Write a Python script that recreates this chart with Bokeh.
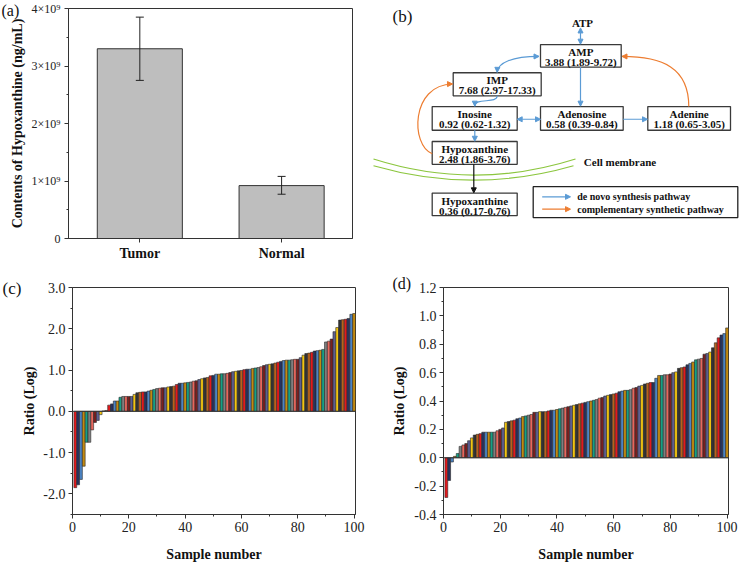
from bokeh.plotting import figure
from bokeh.models import (Range1d, FixedTicker, Whisker, TeeHead, ColumnDataSource, Label,
                          Span, Arrow, NormalHead, NumeralTickFormatter)
from bokeh.layouts import row, column
from bokeh.embed import file_html
from bokeh.resources import INLINE
from bokeh.core.properties import value

# ---------------- data ----------------
groups = ["Tumor", "Normal"]
hx_mean = [3.30e9, 0.92e9]
hx_low = [2.75e9, 0.77e9]
hx_high = [3.85e9, 1.08e9]
a_yticks = [0, 1000000000, 2000000000, 3000000000, 4000000000]
a_ylabels = ["0", "1×10⁹", "2×10⁹", "3×10⁹", "4×10⁹"]

ratio_c = [-1.85, -1.78, -1.65, -1.33, -0.75, -0.75, -0.45, -0.27, -0.22, -0.08,
           0.01, 0.02, 0.15, 0.18, 0.25, 0.25, 0.34, 0.36, 0.36, 0.36,
           0.36, 0.41, 0.45, 0.46, 0.47, 0.47, 0.49, 0.51, 0.53, 0.55,
           0.56, 0.57, 0.57, 0.59, 0.60, 0.61, 0.65, 0.68, 0.68, 0.69,
           0.70, 0.71, 0.73, 0.74, 0.77, 0.79, 0.81, 0.82, 0.86, 0.87,
           0.90, 0.90, 0.91, 0.91, 0.92, 0.94, 0.96, 0.97, 0.98, 0.99,
           1.01, 1.02, 1.02, 1.04, 1.05, 1.06, 1.08, 1.11, 1.13, 1.14,
           1.15, 1.17, 1.19, 1.21, 1.23, 1.24, 1.24, 1.25, 1.26, 1.26,
           1.30, 1.36, 1.40, 1.41, 1.43, 1.46, 1.47, 1.48, 1.50, 1.68,
           1.70, 1.75, 1.93, 2.03, 2.21, 2.22, 2.23, 2.25, 2.35, 2.37]

ratio_d = [-0.28, -0.16, -0.03, 0.01, 0.03, 0.08, 0.09, 0.10, 0.12, 0.14,
           0.16, 0.165, 0.17, 0.18, 0.18, 0.18, 0.18, 0.18, 0.19, 0.20,
           0.21, 0.25, 0.255, 0.26, 0.265, 0.275, 0.28, 0.29, 0.295, 0.30,
           0.305, 0.32, 0.32, 0.325, 0.325, 0.325, 0.33, 0.335, 0.335, 0.34,
           0.345, 0.35, 0.355, 0.36, 0.365, 0.37, 0.375, 0.38, 0.385, 0.39,
           0.395, 0.40, 0.405, 0.41, 0.42, 0.425, 0.435, 0.44, 0.445, 0.45,
           0.455, 0.465, 0.47, 0.475, 0.475, 0.48, 0.49, 0.495, 0.505, 0.51,
           0.52, 0.525, 0.53, 0.53, 0.56, 0.58, 0.58, 0.585, 0.585, 0.59,
           0.60, 0.605, 0.63, 0.635, 0.64, 0.655, 0.665, 0.675, 0.69, 0.695,
           0.70, 0.73, 0.735, 0.745, 0.775, 0.81, 0.845, 0.865, 0.875, 0.915]

samples = list(range(1, 101))

# pathway diagram content
node_names = ["AMP", "IMP", "Inosine", "Adenosine", "Adenine", "Hypoxanthine", "Hypoxanthine"]
node_values = ["3.88 (1.89-9.72)", "7.68 (2.97-17.33)", "0.92 (0.62-1.32)", "0.58 (0.39-0.84)",
               "1.18 (0.65-3.05)", "2.48 (1.86-3.76)", "0.36 (0.17-0.76)"]
legend_items = ["de novo synthesis pathway", "complementary synthetic pathway"]

# ---------------- styles / layout ----------------
FONT = "Liberation Serif"
BLUE = "#5B9BD5"
ORANGE = "#ED7D31"
GREEN = "#8CC63F"
EDGE = "#333333"
bar_colors = ["#E3191C", "#27325F", "#4C84C4", "#C28A10", "#16A085", "#7F7F7F",
              "#E8675D", "#7B1F1F", "#5D5E92", "#F2C511", "#333333", "#B8621B"]

# node box layout (left, right, top, bottom) in diagram pixels
node_boxes = [(170, 250.7, 42.7, 69.3), (82.7, 170.7, 76, 103.3), (61.7, 146.7, 116, 144),
              (170, 252.7, 116, 144), (277.3, 360, 116, 144), (61.7, 146.7, 157.3, 184.3),
              (61.7, 146.7, 218.3, 245)]


def style_axes(p, tick_font="14px"):
    for ax in p.axis:
        ax.axis_line_color = EDGE
        ax.major_tick_line_color = EDGE
        ax.minor_tick_line_color = EDGE
        ax.major_tick_out = 4
        ax.major_tick_in = 0
        ax.minor_tick_out = 2
        ax.minor_tick_in = 0
        ax.major_label_text_font = FONT
        ax.major_label_text_font_size = tick_font
        ax.major_label_text_color = "#222222"
        ax.major_label_standoff = 3
        ax.axis_label_text_font = FONT
        ax.axis_label_text_font_style = "bold"
        ax.axis_label_text_font_size = "14px"
        ax.axis_label_text_color = "#111111"
    p.xgrid.visible = False
    p.ygrid.visible = False
    p.outline_line_color = EDGE
    p.outline_line_width = 1


def panel_label(p, txt, x, y, side="left", size="17px"):
    # label placed in a side panel (x from that panel's left edge, y up from frame bottom)
    p.add_layout(Label(x=x, y=y, x_units="screen", y_units="screen", text=txt, text_font=FONT,
                       text_font_size=size, text_baseline="middle", text_align="left",
                       text_color="#111111"), side)


# ---------------- panel (a) ----------------
pa = figure(width=370, height=272, x_range=Range1d(0.497, 2.5), y_range=Range1d(0, 4e9),
            output_backend="svg", toolbar_location=None,
            min_border_left=68, min_border_right=17, min_border_top=8, min_border_bottom=34)
xa = [1, 2]
pa.vbar(x=xa, top=hx_mean, width=0.6, bottom=0, fill_color="#BEBEBE", line_color=EDGE, line_width=1)
wsrc = ColumnDataSource(dict(x=xa, lower=hx_low, upper=hx_high))
pa.add_layout(Whisker(source=wsrc, base="x", lower="lower", upper="upper", line_color="#222222",
                      line_width=1, level="overlay",
                      upper_head=TeeHead(size=8, line_color="#222222", line_width=1),
                      lower_head=TeeHead(size=8, line_color="#222222", line_width=1)))
style_axes(pa, "12px")
pa.xaxis.ticker = FixedTicker(ticks=xa, minor_ticks=[])
pa.xaxis.major_label_overrides = {1: groups[0], 2: groups[1]}
pa.xaxis.major_label_text_font_style = "bold"
pa.xaxis.major_label_text_font_size = "14px"
pa.xaxis.major_label_text_color = "#111111"
pa.yaxis.ticker = FixedTicker(ticks=a_yticks,
                              minor_ticks=[500000000, 1500000000, 2500000000, 3500000000])
pa.yaxis.major_label_overrides = dict(zip(a_yticks, a_ylabels))
pa.yaxis.major_label_standoff = 4
pa.yaxis.axis_label = "Contents of Hypoxanthine (ng/mL)"
pa.yaxis.axis_label_standoff = 4
panel_label(pa, "(a)", -351, 228, side="right", size="16px")

# ---------------- panel (b) ----------------
pb = figure(width=371, height=272, x_range=Range1d(0, 371), y_range=Range1d(272, 0),
            output_backend="svg", toolbar_location=None, x_axis_location=None, y_axis_location=None,
            min_border_left=0, min_border_right=0, min_border_top=0, min_border_bottom=0)
pb.xgrid.visible = False
pb.ygrid.visible = False
pb.outline_line_color = None

# cell membrane
pb.quadratic(x0=[3, 3], y0=[178, 186], x1=[205, 203], y1=[178, 186], cx=[104, 103], cy=[216, 220],
             line_color=GREEN, line_width=1.2)

lefts = [b[0] for b in node_boxes]
rights = [b[1] for b in node_boxes]
tops = [b[2] for b in node_boxes]
bottoms = [b[3] for b in node_boxes]
pb.quad(left=lefts, right=rights, top=tops, bottom=bottoms, fill_color="white",
        line_color="#3A3A3A", line_width=1.3)
cx_nodes = [(l + r) / 2 for l, r in zip(lefts, rights)]
pb.text(x=cx_nodes, y=[t + 8.8 for t in tops], text=node_names, text_font=value(FONT),
        text_font_style="bold", text_font_size="11px", text_align="center", text_baseline="middle",
        text_color="#111111")
pb.text(x=cx_nodes, y=[t + 20.6 for t in tops], text=node_values, text_font=value(FONT),
        text_font_style="bold", text_font_size="11px", text_align="center", text_baseline="middle",
        text_color="#111111")
pb.text(x=[212, 213.3], y=[17.5, 181], text=["ATP", "Cell membrane"], text_font=value(FONT),
        text_font_style="bold", text_font_size="11px", text_align=["center", "left"],
        text_baseline="middle", text_color="#111111")


def head(c):
    return NormalHead(size=5, fill_color=c, line_color=c, line_width=1)


def arrow(x0, y0, x1, y1, c, both=False, lw=1.2):
    pb.add_layout(Arrow(x_start=x0, y_start=y0, x_end=x1, y_end=y1, line_color=c, line_width=lw,
                        end=head(c), start=head(c) if both else None))


# straight arrows
arrow(210, 23, 210, 42.2, BLUE, both=True)
arrow(210, 69.3, 210, 115.5, BLUE)
arrow(146.7, 131, 170, 131, BLUE, both=True)
arrow(252.7, 131, 277, 131, BLUE)
arrow(104.3, 144, 104.3, 157, BLUE)
arrow(103.3, 184.3, 103.3, 218, "#111111")

# curved arrows
curves = [
    # p0, c0, c1, p1, color, both
    ((168.5, 56.7), (142, 56.7), (127, 64), (126.7, 75.5), BLUE, True),
    ((126.7, 103.3), (126.7, 113), (104.3, 105), (104.3, 115.5), BLUE, False),
    ((61.7, 171.7), (40, 162), (40, 90), (82, 89.3), ORANGE, False),
    ((318.3, 116), (318.3, 70), (292, 56.7), (251.5, 56.7), ORANGE, False),
]
for p0, c0, c1, p1, col, both in curves:
    pb.bezier(x0=[p0[0]], y0=[p0[1]], x1=[p1[0]], y1=[p1[1]], cx0=[c0[0]], cy0=[c0[1]],
              cx1=[c1[0]], cy1=[c1[1]], line_color=col, line_width=1.2)
    dx, dy = p1[0] - c1[0], p1[1] - c1[1]
    n = (dx * dx + dy * dy) ** 0.5
    arrow(p1[0] - dx / n * 2, p1[1] - dy / n * 2, p1[0], p1[1], col)
    if both:
        dx, dy = p0[0] - c0[0], p0[1] - c0[1]
        n = (dx * dx + dy * dy) ** 0.5
        arrow(p0[0] - dx / n * 2, p0[1] - dy / n * 2, p0[0], p0[1], col)

# legend
pb.quad(left=[162.7], right=[367.3], top=[210.7], bottom=[247.3], fill_color="white",
        line_color="#222222", line_width=1.3)
arrow(171.7, 222.7, 200, 222.7, BLUE)
arrow(171.7, 237.3, 200, 237.3, ORANGE)
pb.text(x=[206.7, 206.7], y=[222.7, 237.3], text=legend_items, text_font=value(FONT),
        text_font_style="bold", text_font_size="10px", text_align="left", text_baseline="middle",
        text_color="#111111")
pb.text(x=[22], y=[10], text=["(b)"], text_font=value(FONT), text_font_size="17px",
        text_align="left", text_baseline="middle", text_color="#111111")


# ---------------- panels (c), (d) ----------------
def ratio_panel(vals, w, yr, yticks, yminor, left, right, top, bottom, ylab_standoff,
                xlab_standoff):
    p = figure(width=w, height=292, x_range=Range1d(0, 100.5), y_range=Range1d(*yr),
               output_backend="svg", toolbar_location=None,
               min_border_left=left, min_border_right=right, min_border_top=top,
               min_border_bottom=bottom)
    cols = [bar_colors[i % len(bar_colors)] for i in range(len(vals))]
    p.vbar(x=samples, top=vals, bottom=0, width=1.0, fill_color=cols, line_color="#2A2A2A",
           line_width=0.6)
    p.add_layout(Span(location=0, dimension="width", line_color="#333333", line_width=1))
    style_axes(p, "14px")
    p.xaxis.ticker = FixedTicker(ticks=[0, 20, 40, 60, 80, 100], minor_ticks=[10, 30, 50, 70, 90])
    p.yaxis.ticker = FixedTicker(ticks=yticks, minor_ticks=yminor)
    p.yaxis.formatter = NumeralTickFormatter(format="0.0")
    p.yaxis.axis_label = "Ratio (Log)"
    p.yaxis.axis_label_standoff = ylab_standoff
    p.xaxis.axis_label = "Sample number"
    p.xaxis.axis_label_standoff = xlab_standoff
    return p


pc = ratio_panel(ratio_c, 370, (-2.5, 3.0), [-2, -1, 0, 1, 2, 3], [-2.5, -1.5, -0.5, 0.5, 1.5, 2.5],
                 71, 15, 15, 48, 3, 12)
pd = ratio_panel(ratio_d, 371, (-0.4, 1.2), [-0.4, -0.2, 0, 0.2, 0.4, 0.6, 0.8, 1.0, 1.2],
                 [-0.3, -0.1, 0.1, 0.3, 0.5, 0.7, 0.9, 1.1],
                 73, 13, 15, 46, 4, 12)
panel_label(pc, "(c)", 2, 226)
panel_label(pd, "(d)", 22, 231, size="16px")

layout = column(row(pa, pb), row(pc, pd))
open("out.html", "w").write(file_html(layout, INLINE))
